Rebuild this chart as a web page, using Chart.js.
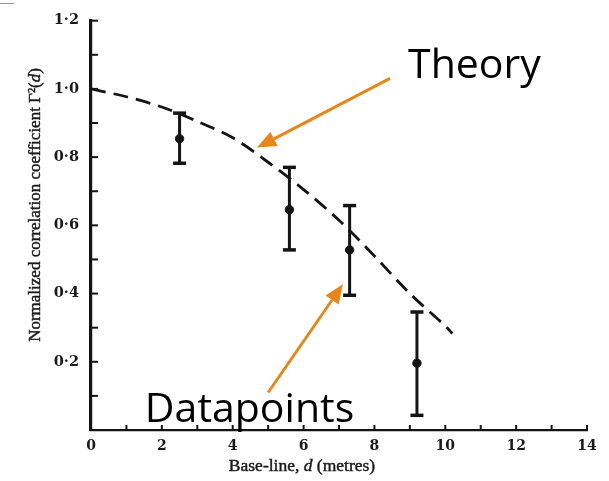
<!DOCTYPE html>
<html>
<head>
<meta charset="utf-8">
<script src="https://cdn.jsdelivr.net/npm/chart.js@4.4.1/dist/chart.umd.min.js"></script>
<style>
  html, body { margin: 0; padding: 0; background: #fff; }
  #wrap { width: 609px; height: 481px; position: relative; }
</style>
</head>
<body>
<div id="wrap"><canvas id="c" width="609" height="481"></canvas></div>
<script>
// Measured correlation at each base-line, with the ends of the error bars
const baseline  = [2.5, 5.6, 7.3, 9.2];
const gamma     = [0.854, 0.646, 0.528, 0.196];
const gammaLow  = [0.782, 0.528, 0.395, 0.043];
const gammaHigh = [0.929, 0.770, 0.658, 0.346];

// Theoretical curve, Γ²(d) against base-line
const theoryD     = [0, 1, 2, 3, 4, 5, 6, 7, 8, 9, 10, 10.2];
const theoryGamma = [1.0, 0.977, 0.947, 0.905, 0.857, 0.785, 0.705, 0.615, 0.51, 0.40, 0.305, 0.283];

// Tick labels (x: every second metre, y: every 0.2)
const xTickLabels = ['0', '2', '4', '6', '8', '10', '12', '14'];
const yTickLabels = ['0·2', '0·4', '0·6', '0·8', '1·0', '1·2'];

// Callouts: text anchor and arrow (tail -> head), in data units
const callouts = [
  { text: 'Theory',     at: [8.95, 1.033], tail: [8.44, 1.031], head: [4.69, 0.828] },
  { text: 'Datapoints', at: [1.52, 0.023], tail: [5.00, 0.110], head: [7.11, 0.427] }
];

const INK = '#141414';
const LABEL = '#1a1a1a';
const ORANGE = '#E8861A';

// Ticks drawn on the inside of both axes
const innerTicks = {
  id: 'innerTicks',
  afterDatasetsDraw(chart) {
    const { ctx, scales: { x, y } } = chart;
    ctx.save();
    ctx.strokeStyle = INK;
    ctx.lineWidth = 2;
    x.ticks.forEach(t => {
      const px = x.getPixelForValue(t.value);
      ctx.beginPath();
      ctx.moveTo(px, y.bottom);
      ctx.lineTo(px, y.bottom - 5);
      ctx.stroke();
    });
    y.ticks.forEach(t => {
      const py = y.getPixelForValue(t.value);
      ctx.beginPath();
      ctx.moveTo(x.left, py);
      ctx.lineTo(x.left + 7, py);
      ctx.stroke();
    });
    ctx.restore();
  }
};

// Vertical error bars with flat caps
const errorBars = {
  id: 'errorBars',
  beforeDatasetsDraw(chart) {
    const { ctx, scales: { x, y } } = chart;
    ctx.save();
    ctx.strokeStyle = INK;
    baseline.forEach((d, i) => {
      const px = x.getPixelForValue(d);
      const top = y.getPixelForValue(gammaHigh[i]);
      const bot = y.getPixelForValue(gammaLow[i]);
      ctx.lineWidth = 3;
      ctx.beginPath();
      ctx.moveTo(px, top);
      ctx.lineTo(px, bot);
      ctx.stroke();
      ctx.lineWidth = 3.5;
      [top, bot].forEach(py => {
        ctx.beginPath();
        ctx.moveTo(px - 6.5, py);
        ctx.lineTo(px + 6.5, py);
        ctx.stroke();
      });
    });
    ctx.restore();
  }
};

// Axis titles (with italic d) and the orange callouts
const overlay = {
  id: 'overlay',
  afterDraw(chart) {
    const { ctx, scales: { x, y } } = chart;
    ctx.save();

    // centred text run made of roman and italic pieces, slightly emboldened
    function mixed(parts, cx, cy) {
      let w = 0;
      parts.forEach(p => { ctx.font = p.font; p.w = ctx.measureText(p.s).width; w += p.w; });
      let sx = cx - w / 2;
      parts.forEach(p => {
        ctx.font = p.font;
        ctx.fillText(p.s, sx, cy);
        ctx.strokeText(p.s, sx, cy);
        sx += p.w;
      });
    }

    ctx.fillStyle = LABEL;
    ctx.strokeStyle = LABEL;
    ctx.lineWidth = 0.45;
    ctx.textBaseline = 'middle';
    ctx.textAlign = 'left';

    // x-axis title
    const xr = '17.5px "Liberation Serif"';
    const xi = 'italic 17.5px "Liberation Serif"';
    mixed([{ s: 'Base-line, ', font: xr }, { s: 'd', font: xi }, { s: ' (metres)', font: xr }], 302, 466);

    // y-axis title
    const yr = '17px "Liberation Serif"';
    const yi = 'italic 17px "Liberation Serif"';
    ctx.save();
    ctx.translate(36, 205);
    ctx.rotate(-Math.PI / 2);
    mixed([{ s: 'Normalized correlation coefficient Γ²(', font: yr }, { s: 'd', font: yi }, { s: ')', font: yr }], 0, 0);
    ctx.restore();

    // callouts
    callouts.forEach(c => {
      const tx = x.getPixelForValue(c.tail[0]), ty = y.getPixelForValue(c.tail[1]);
      const hx = x.getPixelForValue(c.head[0]), hy = y.getPixelForValue(c.head[1]);
      const ang = Math.atan2(hy - ty, hx - tx);
      const len = 19, half = 8;
      const bx = hx - len * Math.cos(ang), by = hy - len * Math.sin(ang);
      ctx.strokeStyle = ORANGE;
      ctx.fillStyle = ORANGE;
      ctx.lineWidth = 3;
      ctx.beginPath();
      ctx.moveTo(tx, ty);
      ctx.lineTo(bx, by);
      ctx.stroke();
      ctx.beginPath();
      ctx.moveTo(hx, hy);
      ctx.lineTo(bx + half * Math.sin(ang), by - half * Math.cos(ang));
      ctx.lineTo(bx - half * Math.sin(ang), by + half * Math.cos(ang));
      ctx.closePath();
      ctx.fill();

      ctx.fillStyle = '#000';
      ctx.font = '41px "Open Sans"';
      ctx.textBaseline = 'alphabetic';
      ctx.fillText(c.text, x.getPixelForValue(c.at[0]), y.getPixelForValue(c.at[1]));
    });

    // short rule at the top-left corner
    ctx.strokeStyle = '#9a9a9a';
    ctx.lineWidth = 1;
    ctx.beginPath();
    ctx.moveTo(0, 3.5);
    ctx.lineTo(14, 3.5);
    ctx.stroke();

    ctx.restore();
  }
};

new Chart(document.getElementById('c'), {
  data: {
    datasets: [
      {
        type: 'line',
        label: 'Theory',
        data: theoryD.map((d, i) => ({ x: d, y: theoryGamma[i] })),
        borderColor: INK,
        borderWidth: 2.8,
        borderDash: [15, 8],
        tension: 0.3,
        pointRadius: 0,
        fill: false
      },
      {
        type: 'scatter',
        label: 'Measured',
        data: baseline.map((d, i) => ({ x: d, y: gamma[i] })),
        backgroundColor: INK,
        borderColor: INK,
        pointRadius: 4.2,
        pointHoverRadius: 4.2
      }
    ]
  },
  options: {
    responsive: false,
    animation: false,
    devicePixelRatio: 1,
    layout: { padding: { top: 14, right: 22, left: 0, bottom: 0 } },
    plugins: { legend: { display: false }, tooltip: { enabled: false } },
    scales: {
      x: {
        type: 'linear',
        min: 0, max: 14,
        border: { display: true, color: INK, width: 2.2 },
        grid: { drawOnChartArea: false, drawTicks: false },
        ticks: {
          stepSize: 1,
          autoSkip: false,
          maxRotation: 0,
          padding: 8,
          color: LABEL,
          font: { family: '"DejaVu Serif"', size: 14, weight: 'bold' },
          callback: v => (Math.round(v) % 2 === 0 ? xTickLabels[Math.round(v) / 2] : '')
        },
        afterFit(s) { s.height = 51; }
      },
      y: {
        type: 'linear',
        min: 0, max: 1.2,
        border: { display: true, color: INK, width: 3.2 },
        grid: { drawOnChartArea: false, drawTicks: false },
        ticks: {
          stepSize: 0.1,
          autoSkip: false,
          padding: 12,
          color: LABEL,
          font: { family: '"DejaVu Serif"', size: 14.5, weight: 'bold' },
          callback: v => {
            const k = Math.round(v * 10);
            return (k > 0 && k % 2 === 0) ? yTickLabels[k / 2 - 1] : '';
          }
        },
        afterFit(s) { s.width = 91; }
      }
    }
  },
  plugins: [errorBars, innerTicks, overlay]
});
</script>
</body>
</html>
